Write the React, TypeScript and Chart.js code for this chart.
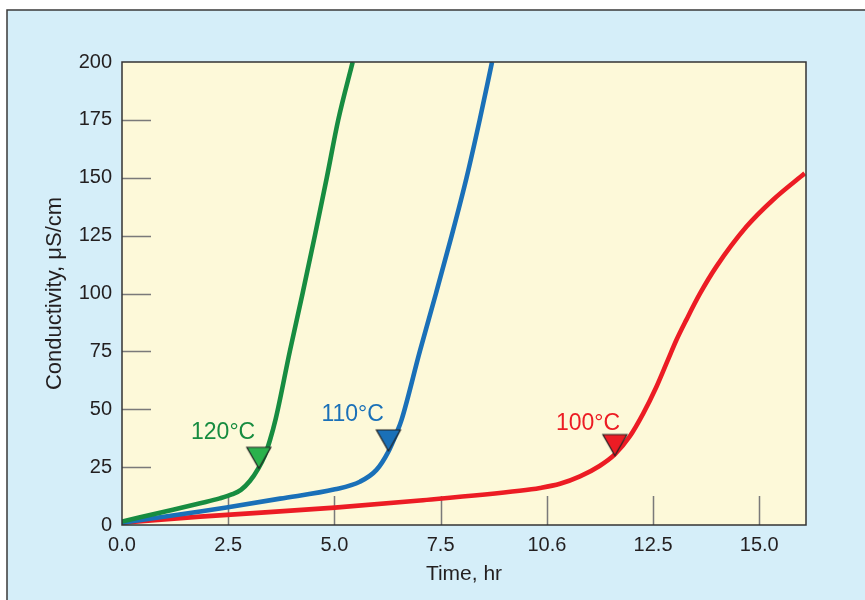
import React, { useEffect, useRef } from "react";
import { Chart, registerables } from "chart.js";

Chart.register(...registerables);

// ---- Axis ticks ----
const xTickValues = [0, 2.5, 5, 7.5, 10, 12.5, 15];
const xTickLabels = ["0.0", "2.5", "5.0", "7.5", "10.6", "12.5", "15.0"];
const yTickValues = [0, 25, 50, 75, 100, 125, 150, 175, 200];

// ---- Series: 120°C ----
const time120 = [0, 1.2, 1.84, 2.3, 2.6, 2.8, 3.01, 3.21, 3.36, 3.48, 3.62, 3.95, 4.25, 4.54, 4.82, 5.09, 5.43];
const cond120 = [1.5, 6.6, 9.4, 11.5, 13.3, 15.2, 19.0, 24.5, 30, 36.5, 46, 75, 100, 125, 150, 175, 200];

// ---- Series: 110°C ----
const time110 = [0, 1.84, 2.46, 3.72, 5.01, 5.6, 5.99, 6.27, 6.46, 6.58, 7.01, 7.39, 7.76, 8.11, 8.42, 8.71];
const cond110 = [1, 5.8, 7.6, 11.4, 15.4, 18.7, 23.8, 31.7, 39.6, 45.4, 75, 100, 125, 150, 175, 200];

// ---- Series: 100°C ----
const time100 = [0, 1.84, 5.01, 7.01, 9.36, 9.84, 10.31, 10.78, 11.24, 11.6, 11.95, 12.27, 12.58, 12.85, 13.05, 13.28, 13.6, 13.99, 14.7, 15.32, 16.07];
const cond100 = [1, 3.6, 7.5, 10.6, 14.8, 16.0, 17.8, 21.0, 25.5, 30.5, 38.2, 48.2, 59.7, 71.3, 79.9, 88.5, 99.8, 111.6, 128.9, 140.4, 151.9];

// ---- Markers and labels ----
const seriesNames = ["120°C", "110°C", "100°C"];
const markerTimes = [3.22, 6.27, 11.6];
const markerValues = [24.5, 32.0, 30.0];
const labelTimes = [2.38, 5.43, 10.97];
const labelValues = [37.1, 44.9, 41.0];

const lineColors = ["#178c40", "#1a70b8", "#ec1c24"];
const markerFills = ["#2bb24c", "#1a70b8", "#ec1c24"];

const FONT = "'Liberation Sans', Arial, Helvetica, sans-serif";

function makeTriangle(fill: string): HTMLCanvasElement {
  const c = document.createElement("canvas");
  c.width = 28;
  c.height = 46;
  const g = c.getContext("2d")!;
  g.beginPath();
  g.moveTo(2, 2);
  g.lineTo(26, 2);
  g.lineTo(14, 23);
  g.closePath();
  g.fillStyle = fill;
  g.fill();
  g.strokeStyle = "#222";
  g.lineWidth = 1.2;
  g.stroke();
  return c;
}

const toPts = (xs: number[], ys: number[]) => xs.map((x, i) => ({ x, y: ys[i] }));

export default function App() {
  const ref = useRef<HTMLCanvasElement | null>(null);

  useEffect(() => {
    if (!ref.current) return;

    const decor = {
      id: "decor",
      beforeDraw(chart: any) {
        const { ctx, chartArea: a, width, height } = chart;
        ctx.save();
        ctx.fillStyle = "#ffffff";
        ctx.fillRect(0, 0, width, height);
        ctx.fillStyle = "#d5eef9";
        ctx.fillRect(7, 10, width, height);
        ctx.strokeStyle = "#3a3a3a";
        ctx.lineWidth = 1.5;
        ctx.beginPath();
        ctx.moveTo(7, height + 2);
        ctx.lineTo(7, 10);
        ctx.lineTo(width + 2, 10);
        ctx.stroke();
        ctx.fillStyle = "#fdf9d9";
        ctx.fillRect(a.left, a.top, a.right - a.left, a.bottom - a.top);
        ctx.restore();
      },
      beforeDatasetsDraw(chart: any) {
        const { ctx, chartArea: a, scales } = chart;
        ctx.save();
        ctx.strokeStyle = "#7a7a7a";
        ctx.lineWidth = 1.5;
        ctx.beginPath();
        scales.x.ticks.forEach((t: any) => {
          if (t.value <= 0) return;
          const px = Math.round(scales.x.getPixelForValue(t.value)) + 0.5;
          ctx.moveTo(px, a.bottom);
          ctx.lineTo(px, a.bottom - 29);
        });
        scales.y.ticks.forEach((t: any) => {
          if (t.value <= 0 || t.value >= 200) return;
          const py = Math.round(scales.y.getPixelForValue(t.value)) + 0.5;
          ctx.moveTo(a.left, py);
          ctx.lineTo(a.left + 29, py);
        });
        ctx.stroke();
        ctx.restore();
      },
      afterDatasetsDraw(chart: any) {
        const { ctx, chartArea: a, scales } = chart;
        ctx.save();
        ctx.strokeStyle = "#333";
        ctx.lineWidth = 1.5;
        ctx.strokeRect(a.left, a.top, a.right - a.left, a.bottom - a.top);
        ctx.font = `23px ${FONT}`;
        ctx.textAlign = "center";
        ctx.textBaseline = "alphabetic";
        seriesNames.forEach((name, i) => {
          ctx.fillStyle = lineColors[i];
          ctx.fillText(
            name,
            scales.x.getPixelForValue(labelTimes[i]),
            scales.y.getPixelForValue(labelValues[i])
          );
        });
        ctx.restore();
      },
    };

    const lineSeries = [
      { t: time120, c: cond120 },
      { t: time110, c: cond110 },
      { t: time100, c: cond100 },
    ];

    const datasets: any[] = [];
    seriesNames.forEach((name, i) => {
      datasets.push({
        label: name + " marker",
        data: [{ x: markerTimes[i], y: markerValues[i] }],
        showLine: false,
        pointStyle: makeTriangle(markerFills[i]),
        pointRadius: 10,
        order: 0,
      });
    });
    lineSeries.forEach((s, i) => {
      datasets.push({
        label: seriesNames[i],
        data: toPts(s.t, s.c),
        borderColor: lineColors[i],
        borderWidth: 4.6,
        pointRadius: 0,
        cubicInterpolationMode: "monotone",
        fill: false,
        order: 1,
      });
    });

    const chart = new Chart(ref.current, {
      type: "line",
      data: { datasets },
      plugins: [decor],
      options: {
        responsive: false,
        animation: false,
        layout: { padding: { left: 0, top: 62, right: 59, bottom: 0 } },
        plugins: {
          legend: { display: false },
          tooltip: { enabled: false },
        },
        scales: {
          x: {
            type: "linear",
            min: 0,
            max: 16.1,
            afterBuildTicks: (scale: any) => {
              scale.ticks = xTickValues.map((v) => ({ value: v }));
            },
            afterFit: (scale: any) => {
              scale.height = 75;
            },
            grid: { display: false, drawTicks: false },
            border: { display: false },
            ticks: {
              autoSkip: false,
              maxRotation: 0,
              padding: 8,
              color: "#231f20",
              font: { family: FONT, size: 20 },
              callback: (_v: any, idx: number) => xTickLabels[idx],
            },
            title: {
              display: true,
              text: "Time, hr",
              color: "#231f20",
              font: { family: FONT, size: 21 },
              padding: { top: 0, bottom: 13 },
            },
          },
          y: {
            type: "linear",
            min: 0,
            max: 200,
            afterBuildTicks: (scale: any) => {
              scale.ticks = yTickValues.map((v) => ({ value: v }));
            },
            afterFit: (scale: any) => {
              scale.width = 122;
            },
            grid: { display: false, drawTicks: false },
            border: { display: false },
            ticks: {
              autoSkip: false,
              padding: 10,
              color: "#231f20",
              font: { family: FONT, size: 20 },
              callback: (v: any) => String(v),
            },
            title: {
              display: true,
              text: "Conductivity, μS/cm",
              color: "#231f20",
              font: { family: FONT, size: 22 },
              padding: { top: 42, bottom: 0 },
            },
          },
        },
      },
    } as any);

    return () => chart.destroy();
  }, []);

  return (
    <div style={{ position: "absolute", left: 0, top: 0, width: 865, height: 600 }}>
      <canvas ref={ref} width={865} height={600} style={{ display: "block" }} />
    </div>
  );
}
